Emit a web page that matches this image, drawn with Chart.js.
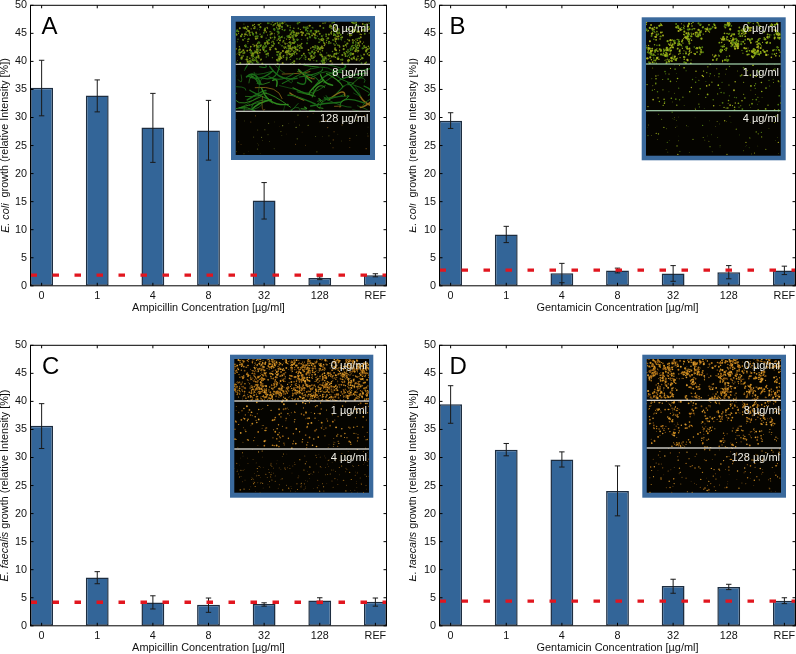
<!DOCTYPE html>
<html>
<head>
<meta charset="utf-8">
<title>Bacterial growth vs antibiotic concentration</title>
<script src="https://cdn.jsdelivr.net/npm/chart.js@4"></script>
<style>
  html, body { margin: 0; padding: 0; background: #fff; }
  body { width: 796px; height: 654px; position: relative; overflow: hidden; }
  canvas { position: absolute; }
</style>
</head>
<body>
<canvas id="panelA" width="387" height="315" style="left:0;top:0"></canvas>
<canvas id="panelB" width="387" height="315" style="left:409px;top:0"></canvas>
<canvas id="panelC" width="387" height="315" style="left:0;top:340px"></canvas>
<canvas id="panelD" width="387" height="315" style="left:409px;top:340px"></canvas>
<script>
var doses = ['0', '1', '4', '8', '32', '128', 'REF'];

var aValues = [35.3, 33.9, 28.2, 27.7, 15.2, 1.37, 1.9];
var aHigh   = [40.2, 36.7, 34.3, 33.05, 18.4, 1.6, 2.15];
var aLow    = [30.3, 31.0, 22.0, 22.4, 11.9, 1.1, 1.6];
var aRef    = 1.9;

var bValues = [29.4, 9.15, 2.25, 2.73, 2.2, 2.4, 2.73];
var bHigh   = [30.85, 10.6, 4.0, 3.15, 3.6, 3.6, 3.5];
var bLow    = [28.05, 7.7, 0.55, 2.3, 0.8, 1.25, 2.0];
var bRef    = 2.8;

var cValues = [35.65, 8.6, 4.15, 3.75, 3.9, 4.5, 4.3];
var cHigh   = [39.6, 9.65, 5.35, 4.95, 4.1, 5.0, 4.95];
var cLow    = [31.6, 7.5, 3.0, 2.4, 3.5, 3.95, 3.5];
var cRef    = 4.2;

var dValues = [39.5, 31.4, 29.65, 24.05, 7.1, 6.9, 4.45];
var dHigh   = [42.8, 32.5, 31.0, 28.5, 8.3, 7.4, 5.0];
var dLow    = [36.1, 30.3, 28.3, 19.6, 5.8, 6.45, 3.95];
var dRef    = 4.4;

var aInsetLabels = ['0 µg/ml', '8 µg/ml', '128 µg/ml'];
var bInsetLabels = ['0 µg/ml', '1 µg/ml', '4 µg/ml'];
var cInsetLabels = ['0 µg/ml', '1 µg/ml', '4 µg/ml'];
var dInsetLabels = ['0 µg/ml', '8 µg/ml', '128 µg/ml'];

var FONT = '"Liberation Sans", Arial, sans-serif';
var BAR_BLUE = '#336598';
var BAR_EDGE = '#1d2d40';
var GREEN = ['#55800f', '#6f8f14', '#3d7412', '#8a9416'];
var LIME = ['#7a9c12', '#93ae18', '#4f7c0e', '#a8b01c'];
var ORANGE = ['#b5761a', '#c98a1e', '#855412', '#dc9c30'];

// the photo insets can't be embedded, this paints a rough stand-in
function makeRand(seed) {
  var s = seed;
  function next() {
    s = (s * 16807) % 2147483647;
    return s / 2147483647;
  }
  for (var i = 0; i < 8; i++) next();
  return next;
}

function paintClumps(ctx, r, colors, clumps, perClump, spread, size, rand) {
  for (var i = 0; i < clumps; i++) {
    var cx = r.x + rand() * r.w, cy = r.y + rand() * r.h;
    for (var j = 0; j < perClump; j++) {
      ctx.fillStyle = colors[Math.floor(rand() * colors.length)];
      ctx.beginPath();
      ctx.arc(cx + (rand() - 0.5) * spread, cy + (rand() - 0.5) * spread, size * (0.5 + rand() * 0.7), 0, 7);
      ctx.fill();
    }
  }
}

function paintFilaments(ctx, r, count, rand) {
  ctx.lineCap = 'round';
  for (var i = 0; i < count; i++) {
    var x = r.x + rand() * r.w, y = r.y + rand() * r.h;
    var dx = (rand() - 0.5) * 60, dy = (rand() - 0.5) * 34;
    ctx.strokeStyle = i % 11 == 0 ? '#8a6a18' : (i % 3 == 0 ? '#2f8a1e' : '#1a6a18');
    ctx.lineWidth = 0.5 + rand() * 1.1;
    ctx.beginPath();
    ctx.moveTo(x, y);
    ctx.quadraticCurveTo(x + dx * 0.5 + (rand() - 0.5) * 24, y + dy * 0.5 + (rand() - 0.5) * 24, x + dx, y + dy);
    ctx.stroke();
  }
}

function paintStrip(ctx, r, strip, rand) {
  if (strip.kind == 'filaments') {
    paintFilaments(ctx, r, strip.count, rand);
  } else {
    paintClumps(ctx, r, strip.colors, strip.clumps, strip.per, strip.spread, strip.size, rand);
  }
}

function drawInset(ctx, inset, labels) {
  var fr = inset.frame, im = inset.image;
  ctx.save();
  ctx.fillStyle = '#3a699c';
  ctx.fillRect(fr[0], fr[1], fr[2] - fr[0], fr[3] - fr[1]);
  ctx.fillStyle = '#050400';
  ctx.fillRect(im[0], im[1], im[2] - im[0], im[3] - im[1]);

  var edges = [im[1], inset.cuts[0], inset.cuts[1], im[3]];
  for (var i = 0; i < 3; i++) {
    var r = { x: im[0], y: edges[i], w: im[2] - im[0], h: edges[i + 1] - edges[i] };
    ctx.save();
    ctx.beginPath();
    ctx.rect(r.x, r.y, r.w, r.h);
    ctx.clip();
    ctx.filter = 'blur(0.6px)';
    paintStrip(ctx, r, inset.strips[i], makeRand(inset.seed + i * 977));
    ctx.restore();
  }

  ctx.fillStyle = inset.cutColor;
  ctx.fillRect(im[0], inset.cuts[0] - 0.6, im[2] - im[0], 1.2);
  ctx.fillRect(im[0], inset.cuts[1] - 0.6, im[2] - im[0], 1.2);

  ctx.fillStyle = '#f0efe6';
  ctx.font = '11px ' + FONT;
  ctx.textAlign = 'right';
  ctx.textBaseline = 'middle';
  for (var k = 0; k < 3; k++) {
    ctx.fillText(labels[k], inset.labelX, inset.labelY[k]);
  }
  ctx.restore();
}

function drawYTitle(ctx, area, x, italicPart, rest) {
  ctx.save();
  ctx.translate(x, (area.top + area.bottom) / 2);
  ctx.rotate(-Math.PI / 2);
  ctx.fillStyle = '#111';
  ctx.textBaseline = 'middle';
  ctx.textAlign = 'left';
  var italicFont = 'italic 10.8px ' + FONT, plainFont = '10.8px ' + FONT;
  ctx.font = italicFont;
  var w1 = ctx.measureText(italicPart).width;
  ctx.font = plainFont;
  var w2 = ctx.measureText(rest).width;
  var start = -(w1 + w2) / 2;
  ctx.font = italicFont;
  ctx.fillText(italicPart, start, 0);
  ctx.font = plainFont;
  ctx.fillText(rest, start + w1, 0);
  ctx.restore();
}

var panelPlugin = {
  id: 'panelExtras',
  afterDatasetDraw: function(chart, args, opts) {
    if (args.index !== 0) return;
    // error bars go between the bars and the red line
    var ctx = chart.ctx, x = chart.scales.x, y = chart.scales.y;
    ctx.save();
    ctx.strokeStyle = '#1a1a1a';
    ctx.lineWidth = 1;
    opts.values.forEach(function(v, i) {
      var px = x.getPixelForValue(i);
      var top = y.getPixelForValue(opts.high[i]), bot = y.getPixelForValue(opts.low[i]);
      ctx.beginPath();
      ctx.moveTo(px, top); ctx.lineTo(px, bot);
      ctx.moveTo(px - 2.7, top); ctx.lineTo(px + 2.7, top);
      ctx.moveTo(px - 2.7, bot); ctx.lineTo(px + 2.7, bot);
      ctx.stroke();
    });
    ctx.restore();
  },
  afterDraw: function(chart, args, opts) {
    var ctx = chart.ctx, a = chart.chartArea, x = chart.scales.x, y = chart.scales.y;
    ctx.save();
    ctx.strokeStyle = '#000';
    ctx.lineWidth = 1;
    ctx.strokeRect(a.left, a.top, a.right - a.left, a.bottom - a.top);
    ctx.beginPath();
    y.ticks.forEach(function(t) {
      var p = y.getPixelForValue(t.value);
      ctx.moveTo(a.left, p); ctx.lineTo(a.left + 3, p);
      ctx.moveTo(a.right, p); ctx.lineTo(a.right - 3, p);
    });
    x.ticks.forEach(function(t) {
      var p = x.getPixelForValue(t.value);
      ctx.moveTo(p, a.top); ctx.lineTo(p, a.top + 3);
      ctx.moveTo(p, a.bottom); ctx.lineTo(p, a.bottom - 3);
    });
    ctx.stroke();
    ctx.restore();

    drawInset(ctx, opts.inset, opts.insetLabels);
    drawYTitle(ctx, a, opts.titleX, opts.species, opts.growth);

    ctx.save();
    ctx.fillStyle = '#000';
    ctx.font = '24px ' + FONT;
    ctx.textBaseline = 'alphabetic';
    ctx.fillText(opts.letter, opts.letterX, opts.letterY);
    ctx.restore();
  }
};

function makePanel(id, p) {
  new Chart(document.getElementById(id), {
    data: {
      datasets: [
        {
          type: 'bar',
          order: 2,
          data: p.values.map(function(v, i) { return { x: i, y: v }; }),
          backgroundColor: BAR_BLUE,
          borderColor: BAR_EDGE,
          borderWidth: 1.5,
          borderSkipped: false,
          categoryPercentage: 1,
          barPercentage: 0.41
        },
        {
          type: 'line',
          order: 1,
          data: [{ x: -0.2, y: p.ref }, { x: 6.2, y: p.ref }],
          borderColor: '#e1161f',
          borderWidth: 3.4,
          borderDash: [6.5, 15.5],
          pointRadius: 0,
          fill: false
        }
      ]
    },
    options: {
      responsive: false,
      animation: false,
      layout: { padding: { top: 5.3, left: 0, right: 0.5, bottom: 0 } },
      plugins: {
        legend: { display: false },
        tooltip: { enabled: false },
        panelExtras: {
          values: p.values, high: p.high, low: p.low,
          inset: p.inset, insetLabels: p.insetLabels,
          titleX: p.titleX, species: p.species, growth: ' growth (relative Intensity [%])',
          letter: p.letter, letterX: p.letterX, letterY: p.letterY
        }
      },
      scales: {
        x: {
          type: 'linear',
          offset: false,
          min: -0.2,
          max: 6.2,
          grid: { display: false, drawTicks: false, offset: false },
          border: { display: false },
          afterBuildTicks: function(scale) {
            scale.ticks = doses.map(function(d, i) { return { value: i }; });
          },
          afterFit: function(scale) {
            scale.height = 29.2;
            scale.paddingLeft = scale.paddingRight = 0;
          },
          ticks: {
            autoSkip: false,
            maxRotation: 0,
            padding: 4,
            color: '#111',
            font: { family: FONT, size: 10.8 },
            callback: function(v) { return doses[v]; }
          },
          title: {
            display: true,
            text: p.xTitle,
            color: '#111',
            padding: 0,
            font: { family: FONT, size: 10.9 }
          }
        },
        y: {
          min: 0,
          max: 50,
          grid: { display: false, drawTicks: false },
          border: { display: false },
          afterFit: function(scale) {
            scale.width = 30.5;
            scale.paddingTop = scale.paddingBottom = 0;
          },
          ticks: {
            stepSize: 5,
            padding: 3.5,
            color: '#111',
            font: { family: FONT, size: 10.8 }
          }
        }
      }
    },
    plugins: [panelPlugin]
  });
}

function clumpStrips(colors, top, mid, low) {
  return [
    { kind: 'clumps', colors: colors, clumps: top[0], per: top[1], spread: top[2], size: top[3] },
    { kind: 'clumps', colors: colors, clumps: mid[0], per: mid[1], spread: mid[2], size: mid[3] },
    { kind: 'clumps', colors: colors, clumps: low[0], per: low[1], spread: low[2], size: low[3] }
  ];
}

makePanel('panelA', {
  values: aValues, high: aHigh, low: aLow, ref: aRef, insetLabels: aInsetLabels,
  xTitle: 'Ampicillin Concentration [µg/ml]', species: 'E. coli ',
  titleX: 5.5, letter: 'A', letterX: 41.5, letterY: 33.5,
  inset: {
    frame: [231, 16, 375, 160], image: [235.7, 21.7, 370, 155], cuts: [64.3, 111.3],
    cutColor: '#d5d8d0', labelX: 368.5, labelY: [29, 73, 119], seed: 1201,
    strips: [
      { kind: 'clumps', colors: GREEN, clumps: 170, per: 6, spread: 9, size: 0.95 },
      { kind: 'filaments', count: 95 },
      { kind: 'clumps', colors: ['#5a5912', '#754e12', '#737f24'], clumps: 70, per: 1, spread: 1, size: 0.55 }
    ]
  }
});

makePanel('panelB', {
  values: bValues, high: bHigh, low: bLow, ref: bRef, insetLabels: bInsetLabels,
  xTitle: 'Gentamicin Concentration [µg/ml]', species: 'E. coli ',
  titleX: 4.3, letter: 'B', letterX: 40.5, letterY: 33.5,
  inset: {
    frame: [232.7, 17.3, 376.7, 160.3], image: [237, 22, 371.7, 155.7], cuts: [64, 110.7],
    cutColor: '#a8d8b0', labelX: 370, labelY: [29, 73, 119], seed: 2203,
    strips: clumpStrips(LIME, [85, 8, 8, 1], [170, 1, 1, 0.75], [80, 1, 1, 0.55])
  }
});

makePanel('panelC', {
  values: cValues, high: cHigh, low: cLow, ref: cRef, insetLabels: cInsetLabels,
  xTitle: 'Ampicillin Concentration [µg/ml]', species: 'E. faecalis',
  titleX: 5, letter: 'C', letterX: 42, letterY: 33.5,
  inset: {
    frame: [230, 14.7, 373.3, 157.7], image: [234.3, 19, 369, 152.7], cuts: [61, 109],
    cutColor: '#f4f2ec', labelX: 367, labelY: [26, 71, 118], seed: 3307,
    strips: clumpStrips(ORANGE, [260, 7, 9, 0.8], [230, 1, 1, 0.8], [230, 1, 1, 0.5])
  }
});

makePanel('panelD', {
  values: dValues, high: dHigh, low: dLow, ref: dRef, insetLabels: dInsetLabels,
  xTitle: 'Gentamicin Concentration [µg/ml]', species: 'E. faecalis',
  titleX: 4.3, letter: 'D', letterX: 40.5, letterY: 33.5,
  inset: {
    frame: [233.3, 14.7, 377, 157.7], image: [237.7, 19, 372, 152.7], cuts: [60.3, 108],
    cutColor: '#f4f2ec', labelX: 371, labelY: [26, 71, 118], seed: 4409,
    strips: clumpStrips(ORANGE, [170, 6, 7, 0.9], [110, 5, 7, 0.8], [170, 1, 1, 0.65])
  }
});
</script>
</body>
</html>
